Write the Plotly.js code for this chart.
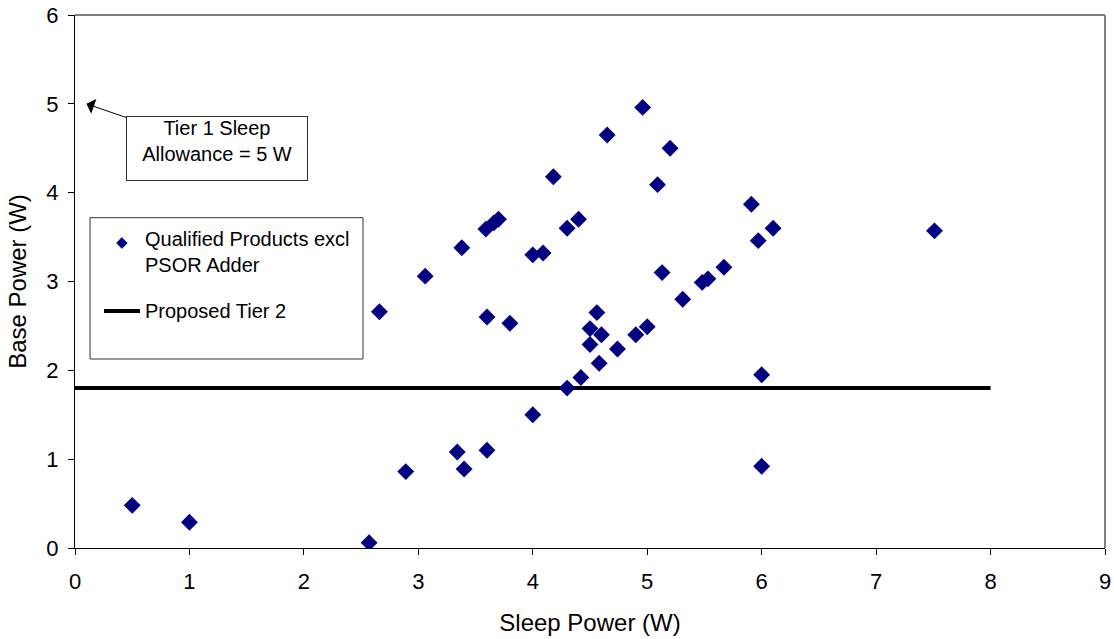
<!DOCTYPE html>
<html>
<head>
<meta charset="utf-8">
<script src="https://cdn.plot.ly/plotly-3.0.1.min.js"></script>
<style>
  html, body { margin: 0; padding: 0; background: #ffffff; }
  #chart { width: 1114px; height: 639px; }
</style>
</head>
<body>
<div id="chart"></div>
<script>
// Qualified products (excluding PSOR adder)
const sleepPower = [0.5, 1.0, 2.57, 2.89, 3.34, 3.40, 3.60, 4.00, 4.30, 4.42, 4.58, 4.74,
  4.90, 5.00, 4.50, 4.50, 4.60, 4.56, 5.31, 5.48, 5.53, 5.67, 5.13, 5.97, 6.10, 5.91,
  6.00, 6.00, 7.51, 4.96, 4.65, 5.20, 5.09, 4.18, 4.40, 4.30, 4.09, 4.00, 3.70, 3.66,
  3.59, 3.38, 3.06, 2.66, 3.60, 3.80];
const basePower = [0.48, 0.29, 0.06, 0.86, 1.08, 0.89, 1.10, 1.50, 1.80, 1.92, 2.08, 2.24,
  2.40, 2.49, 2.29, 2.47, 2.40, 2.65, 2.80, 2.99, 3.03, 3.16, 3.10, 3.46, 3.60, 3.87,
  1.95, 0.92, 3.57, 4.96, 4.65, 4.50, 4.09, 4.18, 3.70, 3.60, 3.32, 3.30, 3.70, 3.66,
  3.59, 3.38, 3.06, 2.66, 2.60, 2.53];

// Proposed Tier 2 line
const tierX = [0, 8];
const tierY = [1.8, 1.8];

// Tier 1 sleep allowance pointer
const tier1X = 0.1;
const tier1Y = 5;

const xTicks = [0, 1, 2, 3, 4, 5, 6, 7, 8, 9];
const yTicks = [0, 1, 2, 3, 4, 5, 6];

const FONT = 'Liberation Sans, Arial, sans-serif';
const NAVY = '#000080';

const traces = [
  {
    x: tierX, y: tierY, type: 'scatter', mode: 'lines',
    name: 'Proposed Tier 2',
    line: { color: '#000000', width: 4 },
    hoverinfo: 'skip'
  },
  {
    x: sleepPower, y: basePower, type: 'scatter', mode: 'markers',
    name: 'Qualified Products excl PSOR Adder',
    marker: { symbol: 'diamond', size: 13, color: NAVY, line: { width: 0 } }
  }
];

const layout = {
  width: 1114, height: 639,
  margin: { l: 75, r: 9, t: 15, b: 91 },
  paper_bgcolor: '#ffffff',
  plot_bgcolor: '#ffffff',
  showlegend: false,
  font: { family: FONT, color: '#000000', size: 20 },
  xaxis: {
    range: [0, 9], tickvals: xTicks, ticktext: xTicks.map(String),
    ticks: 'outside', ticklen: 6, tickcolor: '#000000', tickwidth: 1,
    ticklabelstandoff: 8,
    showline: true, linecolor: '#000000', linewidth: 1,
    showgrid: false, zeroline: false,
    tickfont: { family: FONT, size: 22, color: '#000000' },
    title: { text: 'Sleep Power (W)', font: { family: FONT, size: 24, color: '#000000' }, standoff: 20 }
  },
  yaxis: {
    range: [0, 6], tickvals: yTicks, ticktext: yTicks.map(String),
    ticks: 'outside', ticklen: 6, tickcolor: '#000000', tickwidth: 1,
    ticklabelstandoff: 5,
    showline: true, linecolor: '#000000', linewidth: 1,
    showgrid: false, zeroline: false,
    tickfont: { family: FONT, size: 22, color: '#000000' },
    title: { text: 'Base Power (W)', font: { family: FONT, size: 24, color: '#000000' }, standoff: 12 }
  },
  shapes: [
    // plot area border: top black, right gray
    { type: 'line', xref: 'paper', yref: 'paper', x0: 0, x1: 1, y0: 1, y1: 1,
      line: { color: '#000000', width: 1 } },
    { type: 'line', xref: 'paper', yref: 'paper', x0: 1, x1: 1, y0: 0, y1: 1,
      line: { color: '#808080', width: 2 } },
    // legend box
    { type: 'rect', xref: 'paper', yref: 'paper', x0: 0.0146, x1: 0.2796, y0: 0.3546, y1: 0.6197,
      line: { color: '#333333', width: 1 }, fillcolor: '#ffffff' },
    // legend line sample
    { type: 'line', xref: 'paper', yref: 'paper', x0: 0.0282, x1: 0.0631, y0: 0.4447, y1: 0.4447,
      line: { color: '#000000', width: 4 } }
  ],
  annotations: [
    // legend marker sample
    { xref: 'paper', yref: 'paper', x: 0.0456, y: 0.5741, xanchor: 'center', yanchor: 'middle',
      text: '\u25C6', showarrow: false, font: { family: 'DejaVu Sans', size: 15, color: NAVY } },
    { xref: 'paper', yref: 'paper', x: 0.066, y: 0.5555, xanchor: 'left', yanchor: 'middle', align: 'left',
      text: 'Qualified Products excl<br>PSOR Adder', showarrow: false,
      font: { family: FONT, size: 20, color: '#000000' } },
    { xref: 'paper', yref: 'paper', x: 0.066, y: 0.4447, xanchor: 'left', yanchor: 'middle', align: 'left',
      text: 'Proposed Tier 2', showarrow: false,
      font: { family: FONT, size: 20, color: '#000000' } },
    // Tier 1 callout
    { xref: 'x', yref: 'y', x: tier1X, y: tier1Y, ax: 131, ay: 45,
      text: 'Tier 1 Sleep<br>Allowance = 5 W', showarrow: true,
      arrowhead: 1, arrowsize: 2.6, arrowwidth: 1, arrowcolor: '#000000',
      bordercolor: '#333333', borderwidth: 1, borderpad: 0, bgcolor: '#ffffff',
      width: 180, height: 63, align: 'center', valign: 'top',
      font: { family: FONT, size: 20, color: '#000000' } }
  ]
};

Plotly.newPlot('chart', traces, layout, { displayModeBar: false, staticPlot: true });
</script>
</body>
</html>
